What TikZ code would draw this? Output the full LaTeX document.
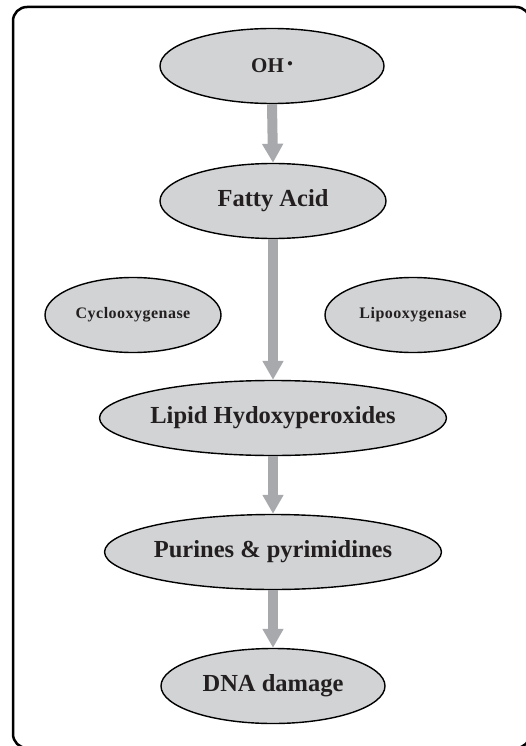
\documentclass[tikz,border=0pt]{standalone}
\usepackage{fontspec}
\setmainfont{Liberation Serif}
\usetikzlibrary{shapes.geometric,arrows.meta}
\definecolor{boxgray}{HTML}{D1D3D4}
\definecolor{flowgray}{HTML}{A7A9AC}
\definecolor{inkblack}{HTML}{231F20}
\begin{document}
\begin{tikzpicture}[x=1pt,y=-1pt,
            every node/.style={ellipse,draw,line width=1.4pt,fill=boxgray,
              inner sep=0pt,minimum height=75pt,text=inkblack,
              font=\fontsize{24.5}{27}\selectfont\bfseries},
            small/.style={minimum width=176pt,
              font=\fontsize{16}{18}\selectfont\bfseries\addfontfeatures{LetterSpace=3}},
            flow/.style={-{Triangle[width=20pt,length=19pt]},line width=10pt,draw=flowgray}]
            \useasboundingbox (0,0) rectangle (526,746);
            \draw[line width=2.5pt,rounded corners=14pt] (13,7) rectangle (530,748);
            \node[minimum width=224pt] (OH) at (272,66)
              {\fontsize{21}{23}\selectfont OH\,\raisebox{0.7ex}{\fontsize{11}{11}\selectfont$\bullet$}};
            \node[minimum width=226pt] (FA) at (273,201) {Fatty Acid};
            \node[small] (COX) at (133,315) {Cyclooxygenase};
            \node[small] (LOX) at (413,315) {Lipooxygenase};
            \node[minimum width=279pt] (LH) at (273,418) {Lipid Hydoxyperoxides};
            \node[minimum width=279pt] (PP) at (273,552) {Purines \& pyrimidines};
            \node[minimum width=224pt] (DNA) at (273,686) {DNA damage};
            \path[flow] (OH.south) -- (FA.north);
            \path[flow] (FA.south) -- (LH.north);
            \path[flow] (LH.south) -- (PP.north);
            \path[flow] (PP.south) -- (DNA.north);
\end{tikzpicture}
\end{document}
